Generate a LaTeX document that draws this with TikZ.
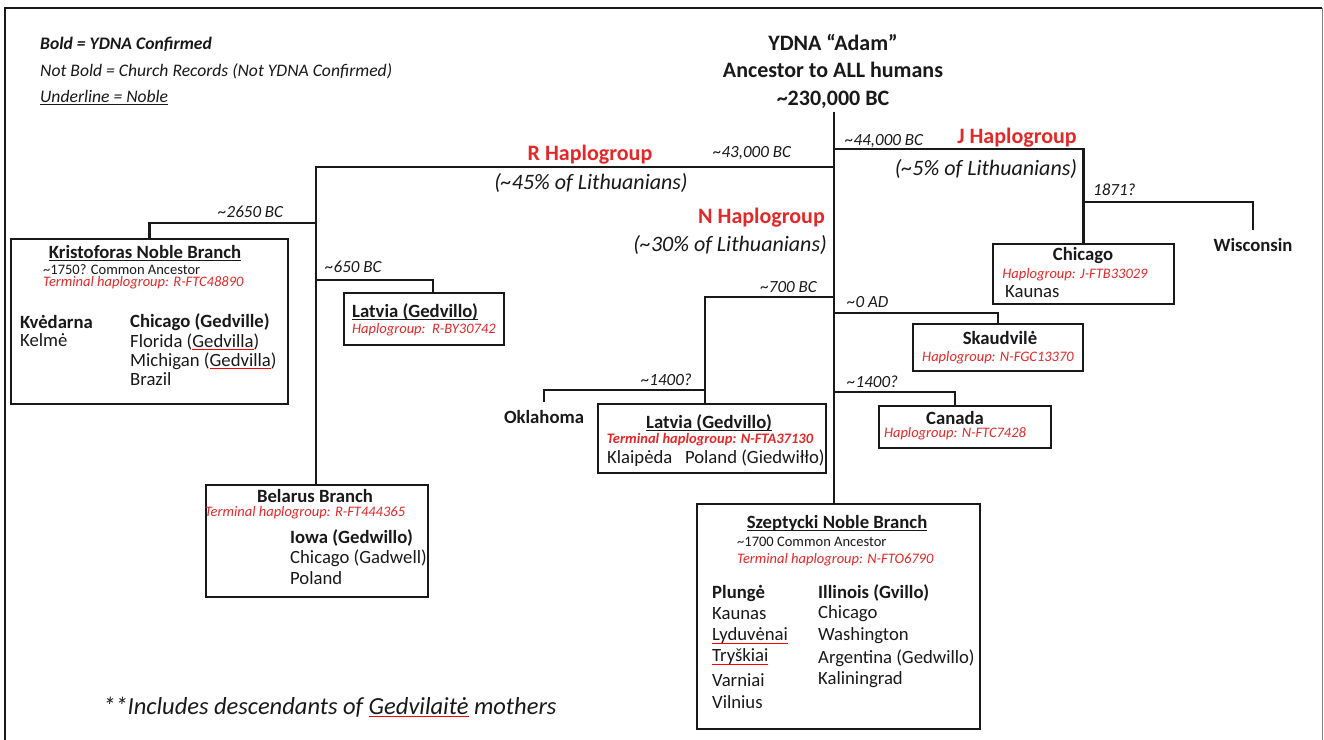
\documentclass[tikz,border=0pt]{standalone}
\usepackage{fontspec}
\setmainfont{Carlito}
\usetikzlibrary{calc}
\definecolor{hred}{RGB}{228,40,40}
\definecolor{ink}{RGB}{25,25,25}
\newcommand\apx{\textasciitilde}
\newcommand\sqg[1]{\setbox0\hbox{#1}\rlap{\color{red}\rule[-3pt]{\wd0}{1.1pt}}\box0\relax}
\newcommand\uln[1]{\setbox0\hbox{#1}\rlap{\rule[-2.5pt]{\wd0}{1pt}}\box0\relax}
\newcommand\fbig{\fontsize{22}{27.5}\selectfont}
\newcommand\fbody{\fontsize{18.7}{20}\selectfont}
\newcommand\fsmall{\fontsize{14.5}{16}\selectfont}
\newcommand\fdate{\fontsize{17}{18}\selectfont}
\newcommand\fleg{\fontsize{17.6}{19}\selectfont}
\newcommand\fnote{\fontsize{24.5}{28}\selectfont}
\begin{document}
\begin{tikzpicture}[x=1pt,y=-1pt,
  every node/.style={inner sep=0pt, text=ink},
  conn/.style={draw=ink, line width=2.4pt},
  box/.style={draw=ink, line width=2.2pt, anchor=north west, inner sep=0pt},
  body/.style={font=\fbody},
  bodyb/.style={font=\fbody\bfseries},
  small/.style={font=\fsmall},
  smallred/.style={font=\fsmall\itshape, text=hred},
  date/.style={font=\fdate\itshape},
  hap/.style={font=\fbig\bfseries, text=hred},
  pct/.style={font=\fbig\itshape}]
\useasboundingbox (0,0) rectangle (1324,739);
\fill[white] (0,0) rectangle (1324,739);
% frame
\draw[line width=2pt, ink] (5,745) -- (5,8) -- (1322,8);
\draw[line width=1pt, gray] (1322,8) -- (1322,745);

% legend
\node[anchor=west, font=\fleg\bfseries\itshape] (l1) at (40,44) {Bold = YDNA Confirmed};
\node[anchor=west, font=\fleg\itshape] (l2) at (40,71) {Not Bold = Church Records (Not YDNA Confirmed)};
\node[anchor=west, font=\fleg\itshape] (l3) at (40,98) {\uln{Underline = Noble}};

% title
\node[align=center, font=\fbig\bfseries] (adam) at (833,71) {YDNA “Adam”\\Ancestor to ALL humans\\\apx230,000 BC};
\coordinate (top) at (834,112);

% boxes
\node[box, minimum width=277, minimum height=165] (kris) at (10,238) {};
\node[box, minimum width=160, minimum height=52] (latL) at (343,292) {};
\node[box, minimum width=222, minimum height=112] (bel) at (205,484) {};
\node[box, minimum width=181, minimum height=60] (chi) at (992,243) {};
\node[box, minimum width=170, minimum height=47] (skd) at (912,323) {};
\node[box, minimum width=172, minimum height=42] (can) at (878,405) {};
\node[box, minimum width=228, minimum height=69] (latM) at (597,403) {};
\node[box, minimum width=283, minimum height=225] (szep) at (696,503) {};

% free-standing place nodes
\node[bodyb] (wis) at (1253,245) {Wisconsin};
\node[bodyb] (okl) at (544,417) {Oklahoma};

% junctions
\coordinate (jJ) at (834,149);
\coordinate (rJ) at (834,167);
\coordinate (nJ) at (834,297);
\coordinate (aJ) at (834,313);
\coordinate (cJ) at (834,392);
\coordinate (rV) at (316,167);
\coordinate (kJ) at (316,223);
\coordinate (lJ) at (316,280);
\coordinate (wJ) at (1083,202);
\coordinate (nV) at (705,297);
\coordinate (oJ) at (705,390);

% connectors
\draw[conn] (top) -- (top |- szep.north);
\draw[conn] (jJ) -| (chi.north);
\draw[conn] (wJ) -| ([yshift=8pt]wis.north);
\draw[conn] (rJ) -- (rV) -- (rV |- bel.north);
\draw[conn] (kJ) -| (kris.north);
\draw[conn] (lJ) -| ([xshift=90pt]latL.north west);
\draw[conn] (nJ) -- (nV) -- (nV |- latM.north);
\draw[conn] (oJ) -| ([yshift=8pt]okl.north);
\draw[conn] (aJ) -| ([xshift=86pt]skd.north west);
\draw[conn] (cJ) -| ([xshift=77pt]can.north west);

% haplogroup labels
\node[hap] (rh) at (590,155) {R Haplogroup};
\node[pct] (rp) at (591,183) {(\apx45\% of Lithuanians)};
\node[hap] (jh) at (1017,138) {J Haplogroup};
\node[pct] (jp) at (986,169) {(\apx5\% of Lithuanians)};
\node[hap, anchor=east] (nh) at (825,218) {N Haplogroup};
\node[pct, anchor=east] (np) at (827,245) {(\apx30\% of Lithuanians)};

% dates
\node[date] (d43) at (752,153) {\apx43,000 BC};
\node[date, anchor=west] (d44) at (845,141) {\apx44,000 BC};
\node[date, anchor=east] (d700) at (817,287) {\apx700 BC};
\node[date, anchor=west] (d2650) at (218,212) {\apx2650 BC};
\node[date, anchor=west] (d650) at (325,267) {\apx650 BC};
\node[date, anchor=west] (d0) at (847,302) {\apx0 AD};
\node[date, anchor=west] (d14r) at (847,382) {\apx1400?};
\node[date, anchor=east] (d14l) at (692,380) {\apx1400?};
\node[date, anchor=west] (d1871) at (1093,190) {1871?};

% Kristoforas box
\node[bodyb] (krt) at (145,253) {\uln{Kristoforas Noble Branch}};
\node[small, anchor=west] (kr1) at (43,270) {\apx1750? Common Ancestor};
\node[smallred, anchor=west] (kr2) at (43,283) {Terminal haplogroup: R-FTC48890};
\node[bodyb, anchor=west] (kr3) at (20,322) {Kvėdarna};
\node[body, anchor=west] (kr4) at (20,340) {Kelmė};
\node[bodyb, anchor=west] (kr5) at (130,322) {Chicago (Gedville)};
\node[body, anchor=west] (kr6) at (130,342) {Florida (\sqg{Gedvilla})};
\node[body, anchor=west] (kr7) at (130,361) {Michigan (\sqg{Gedvilla})};
\node[body, anchor=west] (kr8) at (130,379) {Brazil};

% Latvia left
\node[bodyb, anchor=west] (ll1) at (352,312) {\uln{Latvia (Gedvillo)}};
\node[smallred, anchor=west] (ll2) at (352,330) {Haplogroup:\ \ R-BY30742};

% Belarus
\node[bodyb] (be1) at (315,496) {Belarus Branch};
\node[smallred] (be2) at (305,513) {Terminal haplogroup: R-FT444365};
\node[bodyb, anchor=west] (be3) at (290,538) {Iowa (Gedwillo)};
\node[body, anchor=west] (be4) at (290,558) {Chicago (Gadwell)};
\node[body, anchor=west] (be5) at (290,578) {Poland};

% Chicago (J)
\node[bodyb] (ch1) at (1083,256) {Chicago};
\node[smallred] (ch2) at (1075,275) {Haplogroup: J-FTB33029};
\node[body, anchor=west] (ch3) at (1005,292) {Kaunas};

% Skaudvile
\node[bodyb] (sk1) at (1000,338) {Skaudvilė};
\node[smallred] (sk2) at (998,358) {Haplogroup: N-FGC13370};

% Canada
\node[bodyb] (ca1) at (955,418) {Canada};
\node[smallred] (ca2) at (955,434) {Haplogroup: N-FTC7428};

% Latvia middle
\node[bodyb] (lm1) at (709,423) {\uln{Latvia (Gedvillo)}};
\node[font=\fsmall\bfseries\itshape, text=hred] (lm2) at (710,440) {Terminal haplogroup: N-FTA37130};
\node[body, anchor=west] (lm3) at (607,458) {Klaipėda\ \ \ Poland (Giedwiłło)};

% Szeptycki
\node[bodyb] (sz0) at (837,523) {\uln{Szeptycki Noble Branch}};
\node[small, anchor=west] (sz1) at (737,542) {\apx1700 Common Ancestor};
\node[smallred, anchor=west] (sz2) at (737,560) {Terminal haplogroup: N-FTO6790};
\node[bodyb, anchor=west] (sa1) at (712,593) {Plungė};
\node[body, anchor=west] (sa2) at (712,614) {Kaunas};
\node[body, anchor=west] (sa3) at (712,636) {\sqg{Lyduvėnai}};
\node[body, anchor=west] (sa4) at (712,657) {\sqg{Tryškiai}};
\node[body, anchor=west] (sa5) at (712,680) {Varniai};
\node[body, anchor=west] (sa6) at (712,702) {Vilnius};
\node[bodyb, anchor=west] (sb1) at (818,593) {Illinois (Gvillo)};
\node[body, anchor=west] (sb2) at (818,614) {Chicago};
\node[body, anchor=west] (sb3) at (818,636) {Washington};
\node[body, anchor=west] (sb4) at (818,658) {Argentina (Gedwillo)};
\node[body, anchor=west] (sb5) at (818,680) {Kaliningrad};

% footnote
\node[font=\fnote\itshape, anchor=west] (fn) at (103,707) {**Includes descendants of \sqg{Gedvilaitė} mothers};
\end{tikzpicture}
\end{document}
